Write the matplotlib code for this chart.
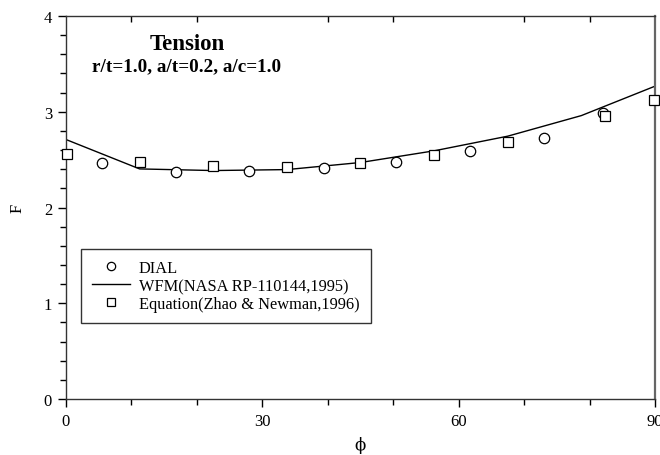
import matplotlib
matplotlib.use("Agg")
import matplotlib.pyplot as plt
from matplotlib.ticker import FixedLocator
from matplotlib.lines import Line2D

plt.rcParams['font.family'] = ['Liberation Serif', 'DejaVu Serif']

dial_phi = [5.55, 16.8, 28.0, 39.4, 50.5, 61.7, 73.1, 82.0]
dial_F = [2.466, 2.369, 2.386, 2.411, 2.480, 2.595, 2.724, 2.989]

wfm_phi = [0, 11.25, 22.5, 33.75, 45, 56.25, 67.5, 78.75, 90]
wfm_F = [2.71, 2.403, 2.386, 2.396, 2.47, 2.592, 2.745, 2.96, 3.267]

eq_phi = [0.1, 11.3, 22.5, 33.7, 44.9, 56.2, 67.5, 82.4, 89.8]
eq_F = [2.56, 2.473, 2.432, 2.428, 2.466, 2.553, 2.689, 2.957, 3.128]

x_major = [0, 30, 60, 90]
x_minor = [10, 20, 40, 50, 70, 80]
y_major = [0, 1, 2, 3, 4]
y_minor = [0.2, 0.4, 0.6, 0.8, 1.2, 1.4, 1.6, 1.8, 2.2, 2.4, 2.6, 2.8, 3.2, 3.4, 3.6, 3.8]

fig = plt.figure(figsize=(6.6, 4.56), dpi=100)
ax = fig.add_axes([0.1, 0.1228, 0.8924, 0.8399])

ax.plot(wfm_phi, wfm_F, color='black', lw=1.0, zorder=2)
ax.plot(dial_phi, dial_F, 'o', mfc='white', mec='black', ms=7.5, mew=0.9, zorder=3, clip_on=False)
ax.plot(eq_phi, eq_F, 's', mfc='white', mec='black', ms=7, mew=0.9, zorder=4, clip_on=False)

ax.set_xlim(0, 90)
ax.set_ylim(0, 4)
ax.xaxis.set_major_locator(FixedLocator(x_major))
ax.xaxis.set_minor_locator(FixedLocator(x_minor))
ax.yaxis.set_major_locator(FixedLocator(y_major))
ax.yaxis.set_minor_locator(FixedLocator(y_minor))

ax.tick_params(axis='both', which='major', direction='out', length=6, width=1, labelsize=12, pad=4)
ax.tick_params(axis='both', which='minor', direction='out', length=4, width=1)

# top ticks inward at minor positions
ax2 = ax.secondary_xaxis('top')
ax2.xaxis.set_major_locator(FixedLocator(x_minor))
ax2.tick_params(direction='in', length=4, width=1, labeltop=False)
ax2.spines['top'].set_visible(False)

for s in ['left', 'bottom', 'top']:
    ax.spines[s].set_color('#333333')
    ax.spines[s].set_linewidth(1.0)
ax.spines['right'].set_color('#666666')
ax.spines['right'].set_linewidth(1.6)

ax.set_xlabel('ϕ', fontsize=12, labelpad=5, family=['DejaVu Serif'])
ax.set_ylabel('F', fontsize=12, labelpad=13)

ax.text(0.2055, 0.927, 'Tension', transform=ax.transAxes, fontsize=16.5, fontweight='bold', ha='center', va='center')
ax.text(0.2055, 0.870, 'r/t=1.0, a/t=0.2, a/c=1.0', transform=ax.transAxes, fontsize=13.8, fontweight='bold', ha='center', va='center')

handles = [
    Line2D([], [], ls='none', marker='o', mfc='white', mec='black', ms=6, mew=0.9),
    Line2D([], [], color='black', lw=1.0),
    Line2D([], [], ls='none', marker='s', mfc='white', mec='black', ms=5.5, mew=0.9),
]
labels = ['DIAL', 'WFM(NASA RP-110144,1995)', 'Equation(Zhao & Newman,1996)']
leg = ax.legend(handles, labels, loc='upper left', bbox_to_anchor=(0.0255, 0.392),
                frameon=True, fancybox=False, edgecolor='black', fontsize=11.8,
                handlelength=2.3, handletextpad=0.55, labelspacing=0.12, borderpad=0.68,
                borderaxespad=0)
leg.get_frame().set_linewidth(1.0)

fig.savefig('out.png', dpi=100)
